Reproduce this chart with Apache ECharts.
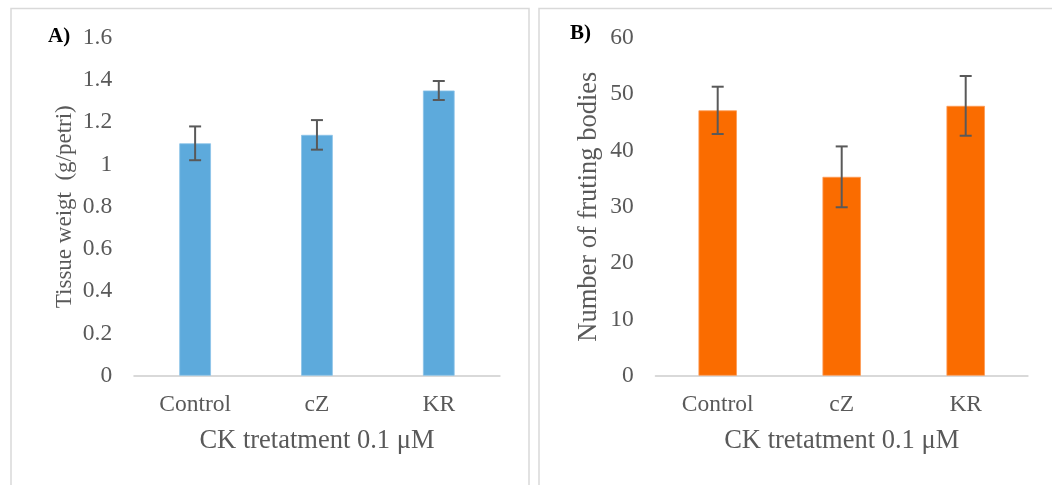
<!DOCTYPE html>
<html>
<head>
<meta charset="utf-8">
<script src="https://cdn.jsdelivr.net/npm/echarts@6/dist/echarts.min.js"></script>
<style>
html,body{margin:0;padding:0;background:#fff;}
#c{width:1052px;height:485px;}
</style>
</head>
<body>
<div id="c"></div>
<script>
// ---- data ----
var categories = ['Control', 'cZ', 'KR'];
var weightValues = [1.10, 1.14, 1.35];
var weightErrors = [0.08, 0.07, 0.045];
var fruitingValues = [47.1, 35.3, 47.9];
var fruitingErrors = [4.2, 5.4, 5.3];
var weightTicks = {min: 0, max: 1.6, interval: 0.2};
var fruitingTicks = {min: 0, max: 60, interval: 10};
var panelLabels = ['A)', 'B)'];
var xTitle = 'CK tretatment 0.1 \u03bcM';
var yTitles = ['Tissue weigt  (g/petri)', 'Number of fruting bodies'];

var FONT = '"Liberation Serif", "Times New Roman", serif';
var TXT = '#595959';

function errData(vals, errs) {
  return vals.map(function (v, i) { return [i, v - errs[i], v + errs[i]]; });
}
function errSeries(idx, vals, errs) {
  return {
    type: 'custom',
    xAxisIndex: idx, yAxisIndex: idx,
    data: errData(vals, errs),
    z: 10,
    renderItem: function (params, api) {
      var x = api.value(0);
      var lo = api.coord([x, api.value(1)]);
      var hi = api.coord([x, api.value(2)]);
      var w = 6;
      var st = {stroke: '#595959', lineWidth: 2};
      return {
        type: 'group',
        children: [
          {type: 'line', shape: {x1: hi[0], y1: hi[1], x2: lo[0], y2: lo[1]}, style: st},
          {type: 'line', shape: {x1: hi[0] - w, y1: hi[1], x2: hi[0] + w, y2: hi[1]}, style: st},
          {type: 'line', shape: {x1: lo[0] - w, y1: lo[1], x2: lo[0] + w, y2: lo[1]}, style: st}
        ]
      };
    }
  };
}
function xAxis(idx) {
  return {
    type: 'category', gridIndex: idx, data: categories,
    axisLine: {lineStyle: {color: '#D9D9D9', width: 2}},
    axisTick: {show: false},
    axisLabel: {color: TXT, fontFamily: FONT, fontSize: 23.5, margin: 17},
    name: xTitle, nameLocation: 'middle', nameGap: 52,
    nameTextStyle: {color: TXT, fontFamily: FONT, fontSize: 26.5}
  };
}
function yAxis(idx, t, name, gap, nsize) {
  return {
    type: 'value', gridIndex: idx, min: t.min, max: t.max, interval: t.interval,
    axisLine: {show: false}, axisTick: {show: false}, splitLine: {show: false},
    axisLabel: {color: TXT, fontFamily: FONT, fontSize: 23.5, margin: 22},
    name: name, nameLocation: 'middle', nameGap: gap, nameRotate: 90,
    nameTextStyle: {color: TXT, fontFamily: FONT, fontSize: nsize}
  };
}

var chart = echarts.init(document.getElementById('c'), null, {renderer: 'canvas'});
chart.setOption({
  animation: false,
  backgroundColor: '#fff',
  grid: [
    {left: 134.2, right: 552.3, top: 37.7, bottom: 109.3},
    {left: 655.7, right: 24.3, top: 37.7, bottom: 109.3}
  ],
  xAxis: [xAxis(0), xAxis(1)],
  yAxis: [yAxis(0, weightTicks, yTitles[0], 58, 23), yAxis(1, fruitingTicks, yTitles[1], 53, 26.5)],
  graphic: [
    {type: 'rect', shape: {x: 11, y: 8.5, width: 518, height: 490}, style: {fill: 'none', stroke: '#D9D9D9', lineWidth: 1.5}, z: -1},
    {type: 'rect', shape: {x: 539, y: 8.5, width: 530, height: 490}, style: {fill: 'none', stroke: '#D9D9D9', lineWidth: 1.5}, z: -1},
    {type: 'text', left: 48, top: 26, style: {text: panelLabels[0], font: 'bold 21px ' + FONT, fill: '#000'}},
    {type: 'text', left: 570, top: 23, style: {text: panelLabels[1], font: 'bold 21px ' + FONT, fill: '#000'}}
  ],
  series: [
    {type: 'bar', xAxisIndex: 0, yAxisIndex: 0, data: weightValues, barWidth: '26%',
     itemStyle: {color: '#5DAADC', borderColor: '#8CC3E8', borderWidth: 0.8}},
    errSeries(0, weightValues, weightErrors),
    {type: 'bar', xAxisIndex: 1, yAxisIndex: 1, data: fruitingValues, barWidth: '31%',
     itemStyle: {color: '#FA6C00', borderColor: '#FC9A55', borderWidth: 0.8}},
    errSeries(1, fruitingValues, fruitingErrors)
  ]
});
</script>
</body>
</html>
